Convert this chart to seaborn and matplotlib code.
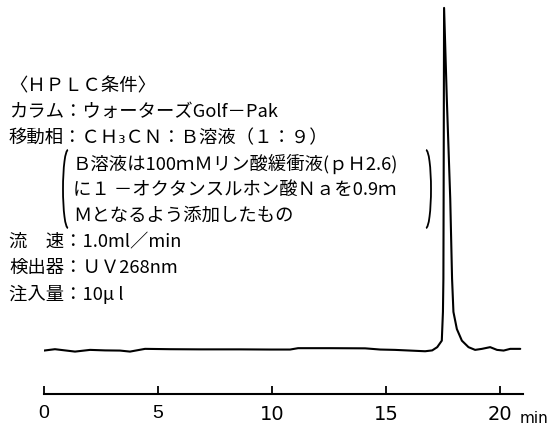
import matplotlib.pyplot as plt
import seaborn as sns
import pandas as pd
from matplotlib.patches import Arc

# chromatogram trace (time in min, relative detector signal)
time_min = [0.00, 0.48, 0.92, 1.36, 2.02, 2.68, 3.33, 3.77, 4.43, 5.53, 6.84,
            8.60, 9.91, 10.79, 11.14, 12.54, 14.08, 14.74, 15.39, 16.05, 16.71,
            17.02, 17.24, 17.44, 17.49, 17.51, 17.52, 17.53, 17.54, 17.66, 17.81,
            17.89, 17.95, 18.10, 18.32, 18.61, 18.90, 19.20, 19.56, 19.86, 20.15,
            20.44, 20.88]
signal = [-0.2, 0.2, -0.15, -0.5, 0.0, -0.15, -0.2, -0.5, 0.3, 0.2, 0.15,
          0.15, 0.1, 0.1, 0.5, 0.5, 0.45, 0.1, 0.0, -0.2, -0.4,
          -0.15, 0.8, 2.7, 11.1, 20.8, 44.0, 73.0, 100.0, 73.4, 44.2,
          20.8, 11.1, 6.1, 2.7, 0.8, 0.0, 0.3, 0.8, 0.0, -0.2,
          0.3, 0.3]

tick_values = [0, 5, 10, 15, 20]
tick_labels = ["0", "5", "10", "15", "20"]
x_unit = "min"

condition_lines = [
    "〈ＨＰＬＣ条件〉",
    "カラム：ウォーターズGolf－Pak",
    "移動相：ＣＨ₃ＣＮ：Ｂ溶液（１：９）",
    "Ｂ溶液は100ｍＭリン酸緩衝液(ｐＨ2.6)",
    "に１ －オクタンスルホン酸Ｎａを0.9ｍ",
    "Ｍとなるよう添加したもの",
    "流　速：1.0ml／min",
    "検出器：ＵＶ268nm",
    "注入量：10μ l",
]
indented = [False, False, False, True, True, True, False, False, False]

sns.set_theme(style="white")
plt.rcParams['font.family'] = ['Noto Sans CJK JP', 'DejaVu Sans']

df = pd.DataFrame({"time": time_min, "signal": signal})

W, H = 549, 427
fig = plt.figure(figsize=(W / 100, H / 100), dpi=100)
fig.patch.set_facecolor("white")

# chromatogram
ax = fig.add_axes([44 / W, 1 - 395 / H, (523 - 44) / W, 395 / H])
sns.lineplot(data=df, x="time", y="signal", ax=ax, color="black",
             linewidth=1.5, estimator=None, sort=False)
ax.set_xlim(0, 21)
ax.set_ylim(-12.9, 102.6)
ax.set_facecolor("none")
for side in ["left", "top", "right"]:
    ax.spines[side].set_visible(False)
ax.spines["bottom"].set_color("black")
ax.spines["bottom"].set_linewidth(1.5)
ax.set_yticks([])
ax.set_xticks(tick_values, tick_labels)
ax.tick_params(axis="x", bottom=True, direction="in", length=6, width=1.3,
               pad=7, labelsize=14, colors="black")
for lbl in ax.get_xticklabels():
    if len(lbl.get_text()) > 1:
        lbl.set_fontfamily(["Liberation Sans Narrow", "DejaVu Sans"])
    else:
        lbl.set_fontfamily(["Liberation Sans", "DejaVu Sans"])
ax.set_xlabel("")
ax.set_ylabel("")

# overlay in pixel coordinates for the condition notes
ov = fig.add_axes([0, 0, 1, 1])
ov.set_xlim(0, W)
ov.set_ylim(H, 0)
ov.axis("off")
ov.patch.set_alpha(0)

line_y = [86 + 26 * i for i in range(len(condition_lines))]
for i, line in enumerate(condition_lines):
    x0 = 73 if indented[i] else 9
    ov.text(x0, line_y[i], line, fontsize=13.2, ha="left", va="center",
            color="black")

# brackets around the B-solution note (lines 4-6)
yc = line_y[4]
ov.add_patch(Arc((68, yc), 10, 78, theta1=90, theta2=270, lw=1.3, color="black"))
ov.add_patch(Arc((426, yc), 10, 78, theta1=-90, theta2=90, lw=1.3, color="black"))

ov.text(534, 419, x_unit, fontsize=11, ha="center", va="center",
        family=["Liberation Sans Narrow", "DejaVu Sans"], color="black")

fig.savefig("out.png", dpi=100)
